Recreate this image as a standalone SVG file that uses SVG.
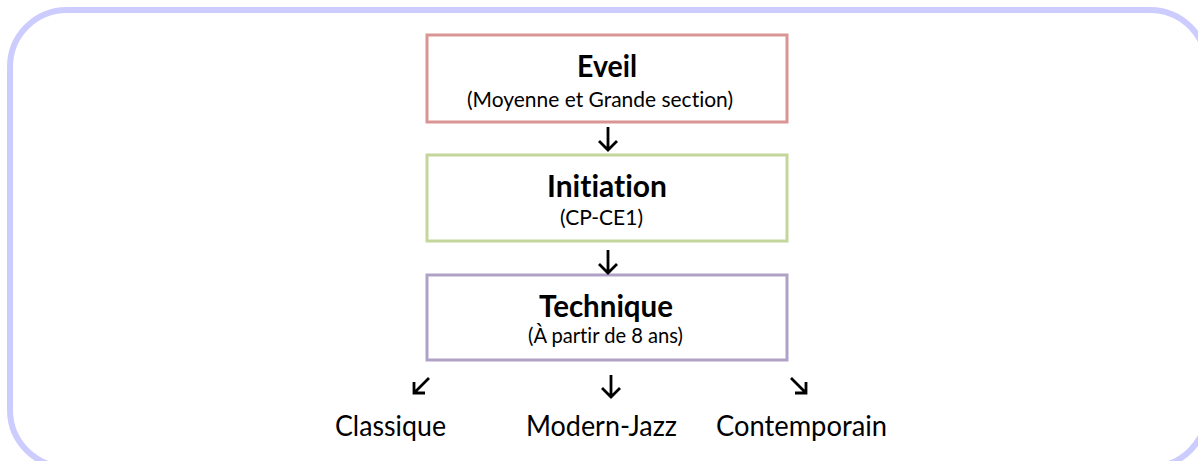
<svg xmlns="http://www.w3.org/2000/svg" width="1198" height="461" viewBox="0 0 1198 461">
<style>
.frame{fill:#fff;stroke:#ccccff;stroke-width:6}
.box{fill:#fff;stroke-width:3}
.t{font-family:Lato,"Open Sans","Liberation Sans",sans-serif;fill:#000;font-variant-ligatures:none;font-feature-settings:"liga" 0,"clig" 0}
.title{font-size:30px;font-weight:bold}
.sub{font-size:21px}
.lab{font-size:28px}
.arr{fill:none;stroke:#000;stroke-width:2.8;stroke-linecap:butt;stroke-linejoin:miter}
</style>
<rect width="1198" height="461" fill="#fff"/>
<rect class="frame" x="10" y="10" width="1197" height="457" rx="57" ry="57"/>
<g id="eveil">
<rect class="box" x="427" y="35" width="360" height="87" stroke="#d99594"/>
<text class="t title" x="577" y="77" textLength="60" lengthAdjust="spacingAndGlyphs">Eveil</text>
<text class="t sub" x="467" y="107" textLength="266" lengthAdjust="spacingAndGlyphs">(Moyenne et Grande section)</text>
</g>
<g id="initiation">
<rect class="box" x="427" y="155" width="360" height="86" stroke="#c3d69b"/>
<text class="t title" x="547" y="197" textLength="120" lengthAdjust="spacingAndGlyphs">Initiation</text>
<text class="t sub" x="560" y="225" textLength="83" lengthAdjust="spacingAndGlyphs">(CP-CE1)</text>
</g>
<g id="technique">
<rect class="box" x="427" y="275" width="360" height="85" stroke="#b2a1c7"/>
<text class="t title" x="539" y="317" textLength="134" lengthAdjust="spacingAndGlyphs">Technique</text>
<text class="t sub" x="528" y="343" textLength="155" lengthAdjust="spacingAndGlyphs">(À partir de 8 ans)</text>
</g>
<g id="classique">
<text class="t lab" x="335" y="436" textLength="111" lengthAdjust="spacingAndGlyphs">Classique</text>
</g>
<g id="modern-jazz">
<text class="t lab" x="526" y="436" textLength="151" lengthAdjust="spacingAndGlyphs">Modern-Jazz</text>
</g>
<g id="contemporain">
<text class="t lab" x="716" y="436" textLength="171" lengthAdjust="spacingAndGlyphs">Contemporain</text>
</g>
<g id="connectors">
<path class="arr" d="M608 127V150M599 141L608 150L617 141"/>
<path class="arr" d="M608 250V273M599 264L608 273L617 264"/>
<path class="arr" d="M429 378L414 393M414 382V393H425"/>
<path class="arr" d="M611 375V397M602 388L611 397L620 388"/>
<path class="arr" d="M791 378L806 393M806 382V393H795"/>
</g>
</svg>
